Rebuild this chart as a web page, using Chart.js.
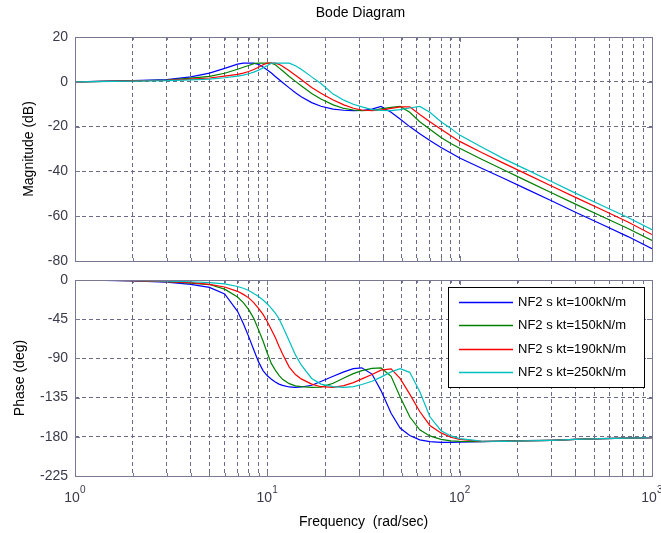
<!DOCTYPE html>
<html>
<head>
<meta charset="utf-8">
<title>Bode Diagram</title>
<script src="https://cdn.jsdelivr.net/npm/chart.js@4.4.1/dist/chart.umd.min.js"></script>
<style>
  body { margin: 0; background: #fff; }
  #wrap { position: relative; width: 661px; height: 533px; }
  canvas { position: absolute; left: 0; }
  #mag { top: 0; }
  #phase { top: 270px; }
</style>
</head>
<body>
<div id="wrap">
  <canvas id="mag" width="661" height="270"></canvas>
  <canvas id="phase" width="661" height="263"></canvas>
</div>
<script>
// frequencies (rad/sec) the curves were read at
const freq = [1, 2, 3, 4, 5, 6, 7, 7.5, 8, 8.5, 9, 9.5, 10, 10.5, 11, 11.5, 12, 13, 14, 15, 17, 19,
  22, 25, 28, 31, 35, 39, 44, 49, 55, 62, 70, 80, 90, 100, 130, 170, 220, 300, 400, 550, 750, 1000]

const seriesLabels = ['NF2 s kt=100kN/m', 'NF2 s kt=150kN/m', 'NF2 s kt=190kN/m', 'NF2 s kt=250kN/m']
const seriesColors = ['#0000ff', '#008000', '#ff0000', '#00bfbf']

// magnitude (dB)
const magBlue = [0, 0.5, 1.0, 2.2, 3.9, 6.0, 7.9, 8.3, 8.3, 8.3, 7.8, 6.6, 5.3, 3.9, 2.4, 1.0, -0.3, -2.7, -4.9, -6.7, -9.3, -10.9,
  -12.2, -12.7, -12.9, -12.8, -12.2, -11, -13.6, -16.6, -20, -23.2, -26.2, -29.3, -31.8, -34, -38.6, -43.2, -47.7, -53.1, -58.2, -63.7, -69.1, -74.5]
const magGreen = [0, 0.4, 0.8, 1.6, 2.4, 3.8, 5.6, 6.5, 7.3, 8.1, 8.3, 8.3, 8.3, 8.3, 7.6, 6.2, 4.9, 2.4, 0.2, -1.8, -5.2, -7.7,
  -10.3, -11.9, -12.6, -12.9, -12.7, -12.1, -11.4, -11, -13.6, -17.8, -21.2, -24.9, -27.5, -29.7, -34.6, -39.4, -44, -49.5, -54.6, -60.1, -65.5, -70.8]
const magRed = [0, 0.4, 0.7, 1.2, 1.7, 2.5, 3.3, 3.9, 4.6, 5.5, 6.5, 7.6, 8.3, 8.3, 8.3, 7.8, 6.9, 4.9, 2.9, 1.0, -2.5, -5.1,
  -8.1, -10.3, -11.8, -12.6, -12.9, -12.6, -11.9, -11.2, -11.2, -14.6, -17.8, -21.2, -24.1, -26.6, -31.6, -36.4, -41, -46.5, -51.6, -57.1, -62.6, -68.2]
const magCyan = [0, 0.3, 0.5, 0.9, 1.2, 1.8, 2.5, 3.0, 3.6, 4.3, 5.2, 6.2, 7.3, 8.3, 8.3, 8.3, 8.3, 8.3, 7.2, 5.6, 2.2, -0.8,
  -5.5, -8.2, -10, -11.2, -12.4, -12.8, -12.9, -12.4, -11.7, -11, -13.6, -17.8, -20.8, -23.8, -29.1, -34.4, -39, -44.5, -49.7, -55.2, -60.6, -66]

// phase (deg)
const phaseBlue = [0, -1, -2.5, -5, -8.5, -16, -36, -50, -65, -80, -94, -104, -110, -114, -117, -119.5, -121, -122.8, -123.2, -122.8, -120.8, -116.5,
  -110.5, -105.5, -101.8, -100.8, -108, -127, -153, -170, -178.5, -183.5, -185.5, -186.5, -186.5, -186, -185.5, -185, -184.5, -184, -183, -182.2, -181.6, -181]
const phaseGreen = [0, -0.8, -2, -3.5, -5.2, -10.5, -19.5, -26, -34, -44, -57, -70, -84, -96, -103.5, -109.5, -114, -119, -121.5, -122.5, -123.3, -123,
  -118.5, -112.5, -107.5, -104, -101.5, -101, -110.5, -134, -157, -172, -179, -183, -184.7, -185.3, -185.5, -185, -184.5, -184, -183, -182.2, -181.6, -181]
const phaseRed = [0, -0.7, -1.8, -3, -5, -8, -13, -16.5, -20.5, -26, -32.5, -39.5, -48, -57, -66, -76, -85, -100, -108.5, -113.5, -119.5, -122.5,
  -123.2, -121.2, -117.8, -113.5, -108.5, -103.5, -102, -113, -131, -151, -167, -175.5, -180.5, -183, -185.2, -185.2, -184.6, -184, -183, -182.2, -181.6, -181]
const phaseCyan = [0, -0.5, -1.2, -2, -3, -4.5, -7.5, -9.5, -12, -15.5, -19, -23, -27.5, -32.5, -38, -44.5, -53, -70, -86, -97.5, -113, -119.5,
  -122.5, -123.2, -122.3, -120, -116.3, -111.5, -105.5, -101.8, -106, -128, -157, -173, -179, -182, -185, -185.2, -184.6, -184, -183, -182.2, -181.6, -181]

const xGridTicks = [1, 2, 3, 4, 5, 6, 7, 8, 9, 10, 20, 30, 40, 50, 60, 70, 80, 90,
  100, 200, 300, 400, 500, 600, 700, 800, 900, 1000]
const xDecades = [1, 10, 100, 1000]
const magTicks = [20, 0, -20, -40, -60, -80]
const phaseTicks = [0, -45, -90, -135, -180, -225]

const FONT = '"Liberation Sans", Arial, sans-serif'
const gridColor = '#6a6a88'
const frameColor = '#787894'
const tickColor = '#3a3a4a'

Chart.defaults.font.family = FONT

function makeDatasets(rows) {
    return rows.map((ys, i) => ({
        label: seriesLabels[i],
        data: freq.map((f, k) => ({ x: f, y: ys[k] })),
        borderColor: seriesColors[i],
        backgroundColor: seriesColors[i],
        borderWidth: 1.2,
        pointRadius: 0,
        tension: 0,
        // later series sit on top, like the original plot
        order: rows.length - 1 - i
    }))
}

function xAxis(withTitle) {
    return {
        type: 'logarithmic',
        min: 1,
        max: 1000,
        afterBuildTicks: s => { s.ticks = xGridTicks.map(v => ({ value: v, major: xDecades.includes(v) })) },
        afterFit: s => {
            s.height = withTitle ? 57 : 9
            s.paddingLeft = 0; s.paddingRight = 0
        },
        ticks: { display: false, autoSkip: false },
        grid: { color: gridColor, lineWidth: 1, drawTicks: false },
        border: { display: false, dash: [4, 3] },
        title: {
            display: withTitle,
            text: 'Frequency  (rad/sec)',
            color: '#000',
            font: { size: 14 },
            padding: { top: 0, bottom: 2 }
        }
    }
}

function yAxis(tickVals, titleText, titlePad) {
    return {
        type: 'linear',
        min: Math.min(...tickVals),
        max: Math.max(...tickVals),
        afterBuildTicks: s => { s.ticks = tickVals.map(v => ({ value: v })) },
        afterFit: s => {
            s.width = 75
            s.paddingTop = 0; s.paddingBottom = 0
        },
        ticks: { color: tickColor, font: { size: 14 }, padding: 7, autoSkip: false },
        grid: { color: gridColor, lineWidth: 1, drawTicks: false },
        border: { display: false, dash: [4, 3] },
        title: {
            display: true,
            text: titleText,
            color: '#000',
            font: { size: 14 },
            padding: { top: titlePad, bottom: 0 }
        }
    }
}

// box around the axes with small inward tick marks
const framePlugin = {
    id: 'frame',
    afterDatasetsDraw(chart) {
        const { ctx, chartArea: a, scales } = chart
        ctx.save()
        ctx.strokeStyle = frameColor
        ctx.lineWidth = 1
        ctx.beginPath()
        scales.x.ticks.forEach(t => {
            const px = Math.round(scales.x.getPixelForValue(t.value)) + 0.5
            const len = t.major ? 5 : 3
            ctx.moveTo(px, a.bottom); ctx.lineTo(px, a.bottom - len)
            ctx.moveTo(px, a.top); ctx.lineTo(px, a.top + len)
        })
        scales.y.ticks.forEach(t => {
            const py = Math.round(scales.y.getPixelForValue(t.value)) + 0.5
            ctx.moveTo(a.left, py); ctx.lineTo(a.left + 5, py)
            ctx.moveTo(a.right, py); ctx.lineTo(a.right - 5, py)
        })
        ctx.stroke()
        ctx.strokeRect(Math.round(a.left) + 0.5, Math.round(a.top) + 0.5,
            Math.round(a.right - a.left), Math.round(a.bottom - a.top))
        ctx.restore()
    }
}

const titlePlugin = {
    id: 'bodeTitle',
    afterDraw(chart) {
        const { ctx, chartArea: a } = chart
        ctx.save()
        ctx.fillStyle = '#000'
        ctx.font = '14px ' + FONT
        ctx.textAlign = 'center'
        ctx.textBaseline = 'middle'
        ctx.fillText('Bode Diagram', (a.left + a.right) / 2 - 3, 13)
        ctx.restore()
    }
}

// "10^n" labels under the phase axes
const decadeLabels = {
    id: 'decadeLabels',
    afterDraw(chart) {
        const { ctx, chartArea: a, scales } = chart
        ctx.save()
        ctx.fillStyle = tickColor
        ctx.textBaseline = 'middle'
        xDecades.forEach(v => {
            const px = scales.x.getPixelForValue(v)
            ctx.font = '14px ' + FONT
            ctx.textAlign = 'center'
            ctx.fillText('10', px - 3, a.bottom + 22)
            ctx.font = '10px ' + FONT
            ctx.textAlign = 'left'
            ctx.fillText(String(Math.round(Math.log10(v))), px + 5, a.bottom + 14)
        })
        ctx.restore()
    }
}

const boxLegend = {
    id: 'boxLegend',
    afterDatasetsDraw(chart) {
        const { ctx, chartArea: a } = chart
        const w = 196, h = 100
        const x0 = a.right - 8 - w, y0 = a.top + 7
        ctx.save()
        ctx.fillStyle = '#fff'
        ctx.fillRect(x0, y0, w, h)
        ctx.strokeStyle = '#000'
        ctx.lineWidth = 1
        ctx.strokeRect(x0 + 0.5, y0 + 0.5, w, h)
        ctx.font = '13px ' + FONT
        ctx.textBaseline = 'middle'
        ctx.textAlign = 'left'
        chart.data.datasets.forEach((ds, i) => {
            const y = Math.round(y0 + 15 + i * 23.3) + 0.5
            ctx.strokeStyle = ds.borderColor
            ctx.lineWidth = 1.3
            ctx.beginPath()
            ctx.moveTo(x0 + 11, y)
            ctx.lineTo(x0 + 65, y)
            ctx.stroke()
            ctx.fillStyle = '#000'
            ctx.fillText(ds.label, x0 + 70, y)
        })
        ctx.restore()
    }
}

const common = {
    responsive: false,
    animation: false,
    devicePixelRatio: 1,
    plugins: { legend: { display: false }, tooltip: { enabled: false } }
}

new Chart(document.getElementById('mag'), {
    type: 'line',
    data: { datasets: makeDatasets([magBlue, magGreen, magRed, magCyan]) },
    options: {
        ...common,
        layout: { padding: { top: 37, right: 9, bottom: 0, left: 0 } },
        scales: {
            x: xAxis(false),
            y: yAxis(magTicks, 'Magnitude (dB)', 21)
        }
    },
    plugins: [framePlugin, titlePlugin]
})

new Chart(document.getElementById('phase'), {
    type: 'line',
    data: { datasets: makeDatasets([phaseBlue, phaseGreen, phaseRed, phaseCyan]) },
    options: {
        ...common,
        layout: { padding: { top: 10, right: 9, bottom: 0, left: 0 } },
        scales: {
            x: xAxis(true),
            y: yAxis(phaseTicks, 'Phase (deg)', 12)
        }
    },
    plugins: [framePlugin, boxLegend, decadeLabels]
})
</script>
</body>
</html>
